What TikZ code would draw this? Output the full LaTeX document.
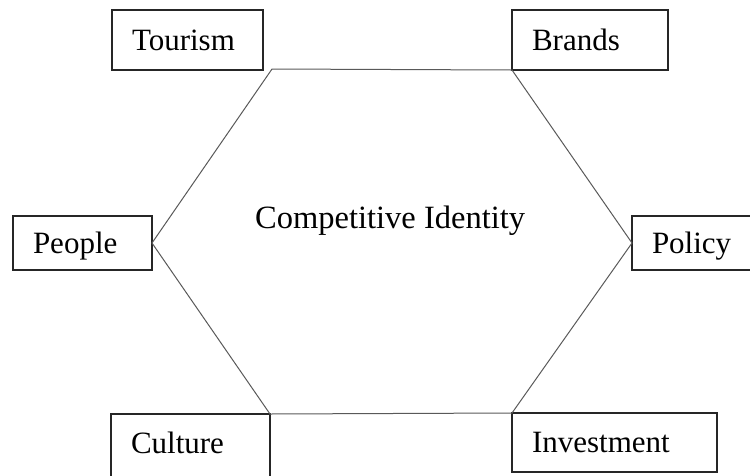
\documentclass[tikz,border=0pt]{standalone}
\usepackage{fontspec}
\setmainfont{Liberation Serif}
\tikzset{
  box/.style={draw=black!85, line width=1.2pt, rectangle, inner xsep=20pt, inner ysep=0pt,
    align=left, text height=20pt, text depth=0pt, outer sep=0pt,
    font=\fontsize{31}{37}\selectfont},
  hexline/.style={draw=black!65, line width=1pt, line join=miter},
  lbl/.style={font=\fontsize{32.5}{38}\selectfont, inner sep=0pt}
}
\begin{document}
\begin{tikzpicture}[x=1pt,y=-1pt]
\useasboundingbox (0,0) rectangle (750,475);
\node[box, text width=111pt, minimum height=60pt] (tourism) at (187.5,40) {Tourism};
\node[box, text width=116pt, minimum height=60pt] (brands) at (590,40) {Brands};
\node[box, text width=99pt, minimum height=54pt] (people) at (82.5,243) {People};
\node[box, text width=83pt, minimum height=54pt] (policy) at (693.5,243) {Policy};
\node[box, text width=119pt, minimum height=64pt, text height=14pt] (culture) at (190.5,446) {Culture};
\node[box, text width=165pt, minimum height=59pt] (invest) at (614.5,442.5) {Investment};
\coordinate (tl) at (272,69);
\node[lbl, anchor=base west] (ci) at (255,228) {Competitive Identity};
\draw[hexline] (tl) -- (brands.south west) -- (policy.west) -- (invest.north west)
  -- (culture.north east) -- (people.east) -- cycle;
\end{tikzpicture}
\end{document}
